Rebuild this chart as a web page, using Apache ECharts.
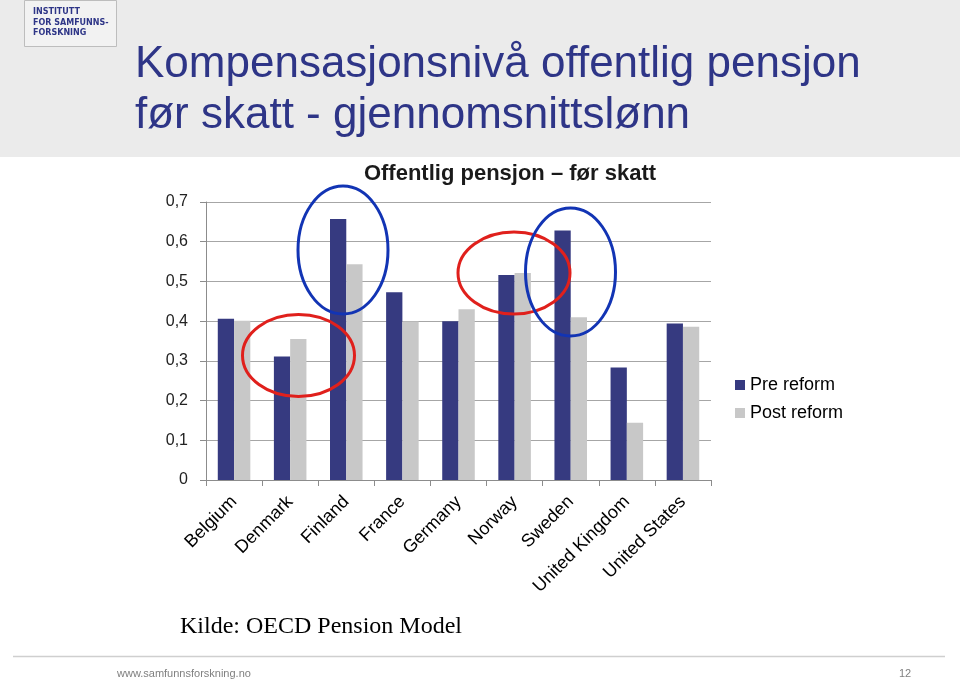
<!DOCTYPE html>
<html><head><meta charset="utf-8">
<script src="https://cdn.jsdelivr.net/npm/echarts@6/dist/echarts.min.js"></script>
<style>html,body{margin:0;padding:0;background:#fff}#c{width:960px;height:681px}</style>
</head><body><div id="c"></div>
<script>
const categories = ['Belgium','Denmark','Finland','France','Germany','Norway','Sweden','United Kingdom','United States'];
const preReform = [0.406, 0.311, 0.657, 0.473, 0.400, 0.516, 0.628, 0.283, 0.394];
const postReform = [0.401, 0.355, 0.543, 0.399, 0.430, 0.521, 0.410, 0.144, 0.386];
const seriesNames = ['Pre reform', 'Post reform'];
const yTicks = ['0', '0,1', '0,2', '0,3', '0,4', '0,5', '0,6', '0,7'];

const chart = echarts.init(document.getElementById('c'), null, {renderer: 'canvas'});
const navy = '#2e3587';
chart.setOption({
  animation: false,
  backgroundColor: '#ffffff',
  title: {
    text: 'Offentlig pensjon – før skatt',
    left: 505, textAlign: 'center', top: 158,
    textStyle: {fontFamily: 'Liberation Sans', fontSize: 22, fontWeight: 'bold', color: '#1a1a1a'}
  },
  legend: {
    orient: 'vertical', left: 730, top: 371,
    itemWidth: 10, itemHeight: 10, itemGap: 10, icon: 'rect',
    textStyle: {fontFamily: 'Liberation Sans', fontSize: 18, color: '#000'},
    data: seriesNames
  },
  grid: {left: 206, right: 249, top: 202, bottom: 201, containLabel: false},
  xAxis: {
    type: 'category', data: categories,
    axisLine: {lineStyle: {color: '#8c8c8c'}},
    axisTick: {show: true, length: 6, lineStyle: {color: '#8c8c8c'}},
    axisLabel: {rotate: 45, interval: 0, margin: 19, fontFamily: 'Liberation Sans', fontSize: 18, color: '#000'}
  },
  yAxis: {
    type: 'value', min: 0, max: 0.7, interval: 0.1,
    axisLine: {show: true, lineStyle: {color: '#8c8c8c'}},
    axisTick: {show: true, length: 6, lineStyle: {color: '#8c8c8c'}},
    splitLine: {lineStyle: {color: '#a6a6a6', width: 1}},
    axisLabel: {
      margin: 18, fontFamily: 'Liberation Sans', fontSize: 16, color: '#222',
      formatter: (v) => yTicks[Math.round(v * 10)]
    }
  },
  series: [
    {name: seriesNames[0], type: 'bar', data: preReform, barGap: '0%', barCategoryGap: '42%', itemStyle: {color: '#363a80'}},
    {name: seriesNames[1], type: 'bar', data: postReform, barGap: '0%', barCategoryGap: '42%', itemStyle: {color: '#c8c8c8'}}
  ],
  graphic: [
    {type: 'rect', shape: {x: 0, y: 0, width: 960, height: 157}, style: {fill: '#ebebeb'}, z: -10, silent: true},
    {type: 'rect', shape: {x: 24.5, y: 0.5, width: 92, height: 46}, style: {fill: '#f2f2f2', stroke: '#bdbdbd', lineWidth: 1}, z: -9},
    {type: 'text', left: 33, top: 7, style: {text: 'INSTITUTT\nFOR SAMFUNNS-\nFORSKNING', fill: navy, font: 'bold 8px "DejaVu Sans"', lineHeight: 10.5}},
    {type: 'text', left: 135, top: 39, style: {text: 'Kompensasjonsnivå offentlig pensjon\nfør skatt - gjennomsnittslønn', fill: navy, font: '44px "Liberation Sans"', lineHeight: 51}},
    {type: 'ellipse', shape: {cx: 298.5, cy: 355.5, rx: 56, ry: 41}, style: {fill: null, stroke: '#e0201c', lineWidth: 3}, z: 100},
    {type: 'ellipse', shape: {cx: 343, cy: 250, rx: 45, ry: 64}, style: {fill: null, stroke: '#1234b4', lineWidth: 3}, z: 100},
    {type: 'ellipse', shape: {cx: 514, cy: 273, rx: 56, ry: 41}, style: {fill: null, stroke: '#e0201c', lineWidth: 3}, z: 100},
    {type: 'ellipse', shape: {cx: 570.5, cy: 272, rx: 45, ry: 64}, style: {fill: null, stroke: '#1234b4', lineWidth: 3}, z: 100},
    {type: 'text', left: 180, top: 615, style: {text: 'Kilde: OECD Pension Model', fill: '#000', font: '24px "Liberation Serif"'}},
    {type: 'line', shape: {x1: 13, y1: 656.5, x2: 945, y2: 656.5}, style: {stroke: '#cfcfcf', lineWidth: 1.5}},
    {type: 'text', left: 117, top: 668, style: {text: 'www.samfunnsforskning.no', fill: '#808080', font: '11px "Liberation Sans Narrow", "Liberation Sans"'}},
    {type: 'text', left: 899, top: 668, style: {text: '12', fill: '#808080', font: '11px "Liberation Sans Narrow", "Liberation Sans"'}}
  ]
});
</script>
</body></html>
